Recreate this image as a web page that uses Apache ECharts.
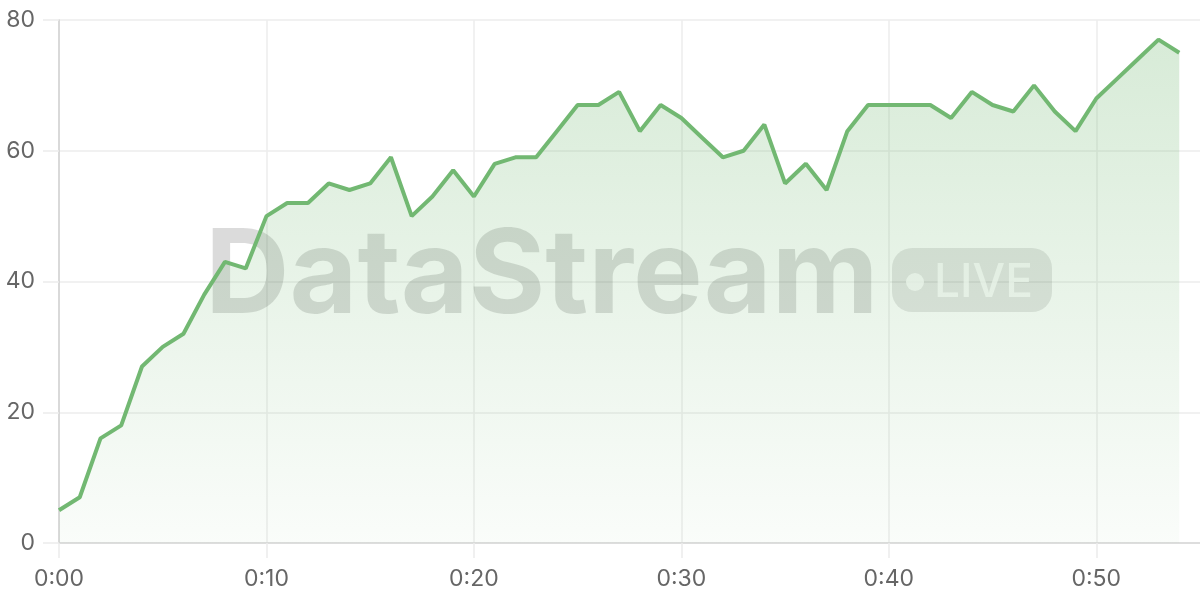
<!DOCTYPE html>
<html>
<head>
<meta charset="utf-8">
<script src="https://cdn.jsdelivr.net/npm/echarts@6/dist/echarts.min.js"></script>
<style>
  html, body { margin: 0; padding: 0; background: #fff; overflow: hidden; }
  #chart { width: 1200px; height: 600px; }
</style>
</head>
<body>
<div id="chart"></div>
<script>
// minutes since start
var minutes = [
    0, 1, 2, 3, 4, 5, 6, 7, 8, 9,
    10, 11, 12, 13, 14, 15, 16, 17, 18, 19,
    20, 21, 22, 23, 24, 25, 26, 27, 28, 29,
    30, 31, 32, 33, 34, 35, 36, 37, 38, 39,
    40, 41, 42, 43, 44, 45, 46, 47, 48, 49,
    50, 51, 52, 53, 54
];
var values = [
    5, 7, 16, 18, 27, 30, 32, 38, 43, 42,
    50, 52, 52, 55, 54, 55, 59, 50, 53, 57,
    53, 58, 59, 59, 63, 67, 67, 69, 63, 67,
    65, 62, 59, 60, 64, 55, 58, 54, 63, 67,
    67, 67, 67, 65, 69, 67, 66, 70, 66, 63,
    68, 71, 74, 77, 75
];
var yTicks = [0, 20, 40, 60, 80];
var watermarkText = "DataStream";
var badgeText = "LIVE";

var lineColor = "#72b872";
var font = "Inter, 'Noto Sans', sans-serif";

function fmtTime(v) {
    if (v % 10 !== 0) return "";
    var m = v % 60;
    return Math.floor(v / 60) + ":" + (m < 10 ? "0" + m : m);
}

var chart = echarts.init(document.getElementById("chart"));

var seriesData = [];
for (var i = 0; i < minutes.length; i++) {
    seriesData.push([minutes[i], values[i]]);
}

chart.setOption({
    animation: false,
    backgroundColor: "#fff",
    grid: { left: 59, right: 0, top: 20, bottom: 57, containLabel: false },
    xAxis: {
        type: "value",
        min: 0,
        max: 55,
        interval: 10,
        axisLine: { show: true, lineStyle: { color: "#d6d6d6", width: 1.5 } },
        axisTick: { show: true, length: 15, lineStyle: { color: "#ececec", width: 1.5 } },
        axisLabel: {
            margin: 25,
            color: "#666",
            fontSize: 23,
            fontFamily: font,
            showMaxLabel: false,
            formatter: fmtTime
        },
        splitLine: { show: true, showMaxLine: false, lineStyle: { color: "#ececec", width: 1.5 } }
    },
    yAxis: {
        type: "value",
        min: yTicks[0],
        max: yTicks[yTicks.length - 1],
        interval: 20,
        axisLine: { show: true, lineStyle: { color: "#d0d0d0", width: 1.5 } },
        axisTick: { show: true, length: 16, lineStyle: { color: "#ececec", width: 1.5 } },
        axisLabel: {
            margin: 24,
            color: "#666",
            fontSize: 23,
            fontFamily: font
        },
        splitLine: { show: true, lineStyle: { color: "#ececec", width: 1.5 } }
    },
    graphic: [
        {
            type: "text",
            z: 1,
            x: 205,
            y: 278,
            style: {
                text: watermarkText,
                font: "bold 117px " + font,
                fill: "rgba(0,0,0,0.14)",
                textAlign: "left",
                textVerticalAlign: "middle"
            }
        },
        {
            type: "rect",
            z: 1,
            shape: { x: 892, y: 248, width: 160, height: 64, r: 20 },
            style: { fill: "rgba(0,0,0,0.10)" }
        },
        {
            type: "circle",
            z: 1,
            shape: { cx: 915, cy: 282, r: 9 },
            style: { fill: "rgba(255,255,255,0.8)" }
        },
        {
            type: "text",
            z: 1,
            x: 934,
            y: 283,
            style: {
                text: badgeText,
                font: "500 46px " + font,
                fill: "rgba(255,255,255,0.8)",
                textAlign: "left",
                textVerticalAlign: "middle"
            }
        }
    ],
    series: [{
        type: "line",
        data: seriesData,
        showSymbol: false,
        lineStyle: { color: lineColor, width: 4 },
        itemStyle: { color: lineColor },
        areaStyle: {
            color: new echarts.graphic.LinearGradient(0, 0, 0, 1, [
                { offset: 0, color: "rgba(114,184,114,0.40)" },
                { offset: 1, color: "rgba(114,184,114,0.05)" }
            ])
        }
    }]
});
</script>
</body>
</html>
